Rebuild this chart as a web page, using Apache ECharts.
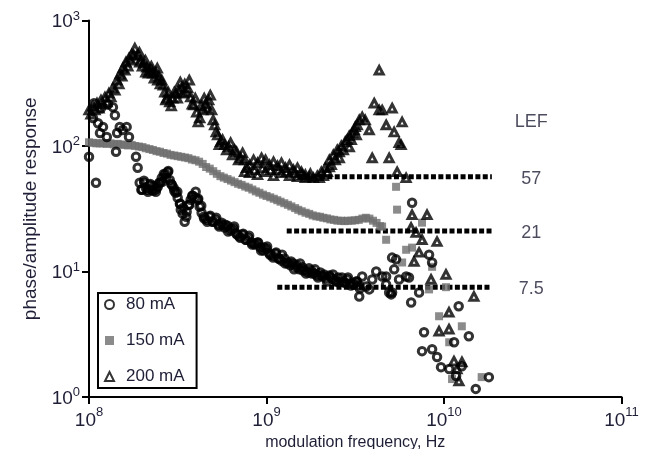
<!DOCTYPE html>
<html>
<head>
<meta charset="utf-8">
<script src="https://cdn.jsdelivr.net/npm/echarts@6/dist/echarts.min.js"></script>
<style>
  html, body { margin: 0; padding: 0; background: #fff; }
  #chart { width: 649px; height: 449px; }
</style>
</head>
<body>
<div id="chart"></div>
<script>
// Modulation response of the laser at three bias currents.
// Each point: [modulation frequency in GHz, phase/amplitude response].

const resp80mA = [
  [0.100, 82], [0.1053, 167], [0.1067, 219], [0.1095, 51], [0.1124, 152], [0.1153, 127],
  [0.1168, 200], [0.1199, 142], [0.126, 118], [0.128, 215], [0.1364, 204], [0.140, 176],
  [0.142, 90], [0.144, 127], [0.149, 142], [0.155, 134], [0.163, 142], [0.168, 118],
  [0.184, 82], [0.188, 67],
  [0.193, 50.9], [0.199, 44.8], [0.204, 52.8], [0.209, 46.4], [0.215, 43.2], [0.220, 49.0],
  [0.226, 44.8], [0.232, 48.1], [0.238, 43.2], [0.244, 47.3], [0.251, 50.9], [0.257, 55.7],
  [0.264, 59.9], [0.271, 55.7], [0.278, 62.2], [0.285, 53.7], [0.293, 49.0], [0.300, 46.4],
  [0.308, 42.4], [0.316, 38.7], [0.325, 34.7], [0.329, 31.1], [0.337, 28.9], [0.346, 24.9],
  [0.355, 29.9], [0.365, 34.0], [0.374, 37.3], [0.384, 40.1], [0.399, 43.2], [0.410, 37.3],
  [0.420, 32.8], [0.431, 29.4], [0.443, 27.3], [0.460, 25.9], [0.478, 27.3], [0.497, 24.9],
  [0.517, 25.9], [0.537, 23.6], [0.559, 24.5], [0.581, 22.4], [0.604, 23.2], [0.628, 21.2],
  [0.653, 21.9], [0.678, 20.0], [0.705, 19.0], [0.733, 19.7], [0.762, 17.9], [0.792, 18.6],
  [0.824, 17.0], [0.856, 16.4], [0.890, 17.0], [0.925, 15.5], [0.962, 14.7], [1.000, 15.2],
  [1.040, 13.9], [1.081, 13.4], [1.124, 13.9], [1.168, 12.7], [1.214, 12.2], [1.262, 12.7],
  [1.312, 11.6], [1.364, 11.2], [1.418, 11.6], [1.474, 10.8], [1.532, 10.4], [1.593, 10.8],
  [1.656, 10.2], [1.722, 9.82], [1.790, 10.2], [1.861, 9.64], [1.934, 9.30], [2.011, 9.82],
  [2.090, 9.13], [2.173, 8.80], [2.259, 9.30], [2.348, 8.80], [2.441, 8.48], [2.538, 8.96],
  [2.638, 8.33], [2.743, 8.18], [2.851, 8.64], [2.964, 8.03], [3.082, 7.88], [3.204, 8.33],
  [3.331, 7.74],
  [0.1972, 44.8], [0.2050, 50.9], [0.2132, 44.8], [0.2216, 49.9], [0.2304, 44.0], [0.2395, 45.6],
  [0.2490, 50.9], [0.2589, 51.8], [0.2691, 59.9], [0.2798, 63.3], [0.2909, 49.9], [0.3024, 44.0],
  [0.3144, 43.2], [0.3268, 34.7], [0.3398, 32.2], [0.3532, 27.3], [0.3672, 34.0], [0.3818, 40.1],
  [0.3969, 38.7], [0.4126, 38.0], [0.4289, 33.4], [0.4459, 26.4], [0.4636, 24.9], [0.4820, 27.8],
  [0.5010, 24.9], [0.5209, 26.8], [0.5415, 22.8], [0.5630, 23.6], [0.5853, 23.6], [0.6084, 20.8],
  [0.6325, 21.9], [0.6576, 22.8], [0.6836, 19.7], [0.7107, 18.6], [0.7388, 20.0], [0.7681, 17.9],
  [0.7985, 19.3], [0.8301, 16.4], [0.8630, 16.7], [0.8972, 17.0], [0.9327, 14.7], [0.9696, 15.5],
  [1.0080, 15.8], [1.0479, 13.6], [1.0894, 12.9], [1.1326, 14.2], [1.1774, 12.7], [1.2241, 13.6],
  [1.2725, 11.6], [1.3229, 11.8], [1.3753, 12.0], [1.4298, 10.4], [1.4864, 11.2], [1.5453, 11.6],
  [1.6065, 10.2], [1.6701, 9.64], [1.7362, 10.6], [1.8050, 9.64], [1.8764, 10.4], [1.9508, 8.96],
  [2.0280, 9.30], [2.1083, 9.47], [2.1918, 8.33], [2.2786, 9.13], [2.3688, 9.47], [2.4626, 8.33],
  [2.5601, 8.18], [2.6615, 8.96], [2.7669, 8.18], [2.8765, 8.96], [2.9904, 7.74], [3.1088, 8.03],
  [3.2319, 8.33], [3.3599, 7.33],
  [3.46, 9.13], [4.15, 10.0], [3.79, 7.2], [3.33, 6.33], [4.72, 7.88], [5.10, 6.81],
  [5.37, 12.5], [5.24, 10.4], [5.58, 8.64], [6.35, 8.96], [6.61, 35.3], [5.10, 12.9],
  [6.12, 9.13], [5.04, 6.57], [6.53, 5.67], [7.24, 6.81], [8.24, 13.6], [8.57, 11.8],
  [12.1, 5.28], [7.72, 3.28], [13.8, 3.05], [11.4, 2.73], [7.52, 2.32], [8.57, 2.40],
  [9.14, 2.08], [9.62, 1.73], [10.7, 1.67], [12.6, 1.76], [11.7, 1.47], [17.9, 1.44],
  [15.1, 1.16], [3.65, 7.6], [3.94, 8.64], [4.49, 9.13], [4.91, 6.81], [4.72, 9.13]
];

const resp150mA = [
  [0.100, 107], [0.105, 106], [0.110, 105], [0.115, 105], [0.120, 105], [0.126, 104],
  [0.132, 105], [0.138, 103], [0.145, 104], [0.151, 103], [0.158, 102], [0.166, 101],
  [0.174, 102], [0.182, 100], [0.191, 99], [0.200, 98], [0.209, 96], [0.219, 94.5],
  [0.229, 93], [0.240, 91], [0.251, 90], [0.263, 88], [0.275, 87], [0.288, 85],
  [0.302, 84], [0.316, 83], [0.331, 82], [0.347, 81], [0.363, 80], [0.380, 78],
  [0.398, 77], [0.417, 75], [0.437, 72], [0.457, 68], [0.479, 66], [0.501, 63],
  [0.525, 60], [0.550, 57.5], [0.575, 56], [0.603, 54.5], [0.631, 53], [0.661, 51.5],
  [0.692, 50], [0.724, 49], [0.759, 47.5], [0.794, 46.5], [0.832, 45], [0.871, 43.5],
  [0.912, 42.4], [0.955, 41], [1.00, 40], [1.05, 39], [1.10, 38], [1.15, 37],
  [1.20, 36], [1.26, 35], [1.32, 34], [1.38, 33], [1.45, 32], [1.51, 31],
  [1.58, 30.2], [1.66, 29.4], [1.74, 28.8], [1.82, 28], [1.91, 27.5], [2.00, 27.3],
  [2.09, 26.8], [2.19, 26.5], [2.29, 26], [2.40, 25.8], [2.51, 25.4], [2.63, 25.4],
  [2.75, 25.2], [2.88, 25.4], [3.02, 25.4], [3.16, 25.6], [3.31, 25.8], [3.47, 26.4],
  [3.63, 26.8], [3.80, 26.4], [3.98, 25.4], [4.17, 24.4], [4.37, 23],
  [4.72, 17.9], [4.48, 22.8], [5.37, 47.3], [5.44, 31.1], [7.52, 24.5], [6.61, 15.5],
  [6.12, 14.9], [5.81, 11.8], [8.57, 10.9], [8.24, 7.2], [10.26, 7.5], [9.38, 4.4],
  [12.6, 3.66], [10.7, 2.73], [11.1, 1.39], [16.3, 1.44]
];

const resp200mA = [
  [0.100, 193], [0.1053, 208], [0.1109, 219], [0.1168, 232], [0.1230, 245], [0.1295, 263],
  [0.1364, 289], [0.1437, 334], [0.1494, 373], [0.1552, 416], [0.1614, 464], [0.1678, 499],
  [0.1744, 537], [0.1813, 600], [0.1885, 528], [0.1959, 481], [0.2037, 456], [0.2118, 424],
  [0.2201, 401], [0.2289, 380], [0.2379, 387], [0.2473, 359], [0.2571, 334], [0.2673, 268],
  [0.2743, 240], [0.2851, 224], [0.2964, 240], [0.3082, 263], [0.3204, 278], [0.3331, 294],
  [0.3462, 311], [0.3599, 289], [0.3742, 245], [0.3890, 212], [0.4044, 186], [0.4204, 167],
  [0.4370, 193], [0.4543, 215], [0.4723, 232], [0.4909, 193], [0.5104, 147], [0.5305, 122],
  [0.5515, 108], [0.5808, 102], [0.6116, 98.2], [0.6442, 84.8], [0.6783, 89.6], [0.7143, 80.3],
  [0.7523, 77.4], [0.8027, 70.7], [0.8453, 77.4], [0.8901, 73.3], [0.9374, 80.3], [0.9871, 77.4],
  [1.040, 70.7], [1.095, 74.6], [1.153, 69.4], [1.214, 73.3], [1.279, 66.9], [1.347, 70.7],
  [1.418, 64.5], [1.494, 66.9], [1.573, 62.2], [1.656, 58.9], [1.744, 56.8], [1.837, 55.7],
  [1.934, 57.8], [2.037, 62.2], [2.145, 66.9], [2.259, 77.4], [2.379, 84.8], [2.505, 93.0],
  [2.638, 100], [2.778, 108], [2.926, 120], [3.042, 127], [3.162, 142], [3.331, 161],
  [3.462, 170], [3.599, 161], [3.790, 134],
  [0.1026, 179], [0.1081, 193], [0.1138, 200], [0.1199, 215], [0.1262, 224], [0.1329, 245],
  [0.1400, 278], [0.1474, 311], [0.1532, 359], [0.1593, 401], [0.1656, 431], [0.1722, 481],
  [0.1790, 528], [0.193, 464], [0.209, 387], [0.226, 401], [0.244, 334],
  [0.1922, 557], [0.200, 431], [0.2078, 481], [0.2160, 380], [0.2245, 431], [0.2334, 347],
  [0.2426, 416], [0.2522, 311], [0.2622, 305], [0.271, 232], [0.2798, 268], [0.2909, 208],
  [0.3024, 268], [0.3144, 240], [0.3268, 322], [0.3398, 263], [0.3532, 268], [0.3672, 334],
  [0.3818, 215], [0.3969, 240], [0.4126, 155], [0.4289, 208], [0.4459, 240], [0.4636, 200],
  [0.4820, 254], [0.5010, 161], [0.5209, 129], [0.5415, 102], [0.5660, 112], [0.5961, 93.0],
  [0.628, 106], [0.661, 93.0], [0.696, 77.4], [0.733, 88.0],
  [0.7523, 62.2], [0.8027, 61.1], [0.8901, 58.9], [0.9871, 62.2], [1.095, 57.8], [1.214, 61.1],
  [1.347, 57.8], [1.494, 56.8], [1.656, 55.7],
  [0.772, 66.9], [0.856, 64.5], [0.950, 66.9], [1.053, 64.5], [1.168, 64.5], [1.296, 62.2],
  [1.437, 61.1], [1.593, 58.9], [1.767, 60.0],
  [1.984, 55.7], [2.090, 57.8], [2.201, 62.2], [2.318, 70.7], [2.441, 77.4], [2.570, 89.6],
  [2.708, 93.0], [2.851, 112], [3.003, 112], [3.122, 134], [3.245, 147],
  [2.259, 68.1], [2.570, 80.3], [2.926, 98.2], [3.204, 122],
  [4.044, 219], [4.314, 193], [4.485, 193], [5.104, 200], [4.723, 147], [5.237, 129],
  [5.808, 155], [5.733, 102], [5.587, 106], [4.909, 80.3], [3.940, 80.3], [5.445, 62.2],
  [6.116, 55.7], [4.314, 401],
  [6.609, 28.3], [8.027, 28.3], [6.525, 22.4], [6.960, 20.4], [7.523, 17.9], [9.135, 17.3],
  [7.237, 14.2], [6.783, 12.0], [10.26, 9.47], [8.453, 8.64], [14.74, 6.33], [10.67, 4.73],
  [9.374, 3.34], [10.67, 3.47], [11.38, 1.93], [12.62, 1.90], [11.83, 1.67], [12.14, 1.34]
];

// Fitted LEF plateaus: level, start and end frequency (GHz)
const lefLevels = [57, 21, 7.5];
const lefStartGHz = [1.5, 1.3, 1.15];
const lefEndGHz = 18.6;
const lefHeader = 'LEF';
const lefHeaderLevel = 161;
const lefLabelGHz = 31;

const seriesNames = ['80 mA', '150 mA', '200 mA'];

const FONT = "'Liberation Sans', Arial, Helvetica, sans-serif";
const TEXT = '#1e1e36';
const toHz = pts => pts.map(p => [p[0] * 1e9, p[1]]);

const powerLabel = v => '{b|10}{s|' + Math.round(Math.log10(v)) + '}';
const makeRich = lh => ({
  b: { fontSize: 19, fontFamily: FONT, color: TEXT, lineHeight: lh, verticalAlign: 'bottom' },
  s: { fontSize: 13, fontFamily: FONT, color: TEXT, lineHeight: lh, verticalAlign: 'top' }
});

const axisCommon = {
  type: 'log',
  logBase: 10,
  axisLine: { show: true, lineStyle: { color: '#000', width: 2 } },
  axisTick: { show: true, inside: false, length: 7, lineStyle: { color: '#000', width: 2 } },
  minorTick: { show: false },
  splitLine: { show: false },
  nameLocation: 'middle'
};

const lefLines = lefLevels.map((lv, i) => ({
  type: 'line',
  data: [[lefStartGHz[i] * 1e9, lv], [lefEndGHz * 1e9, lv]],
  symbol: 'none',
  silent: true,
  z: 1,
  lineStyle: { color: '#000', width: 5, type: [5, 2.4] }
}));

const lefText = {
  type: 'scatter',
  silent: true,
  symbolSize: 1,
  itemStyle: { color: 'rgba(0,0,0,0)' },
  data: [[lefLabelGHz * 1e9, lefHeaderLevel, lefHeader]]
    .concat(lefLevels.map(lv => [lefLabelGHz * 1e9, lv, String(lv)])),
  label: {
    show: true,
    position: 'inside',
    offset: [0, 2],
    formatter: p => p.data[2],
    fontSize: 18,
    fontFamily: FONT,
    color: TEXT
  }
};

const hollow = { color: 'rgba(255,255,255,0)', borderColor: '#000', borderWidth: 3 };

const chart = echarts.init(document.getElementById('chart'), null, { renderer: 'canvas' });
chart.setOption({
  animation: false,
  backgroundColor: '#fff',
  grid: { left: 89, right: 27.5, top: 20.5, bottom: 52, containLabel: false, outerBoundsMode: 'none' },
  xAxis: Object.assign({}, axisCommon, {
    min: 1e8, max: 1e11,
    name: 'modulation frequency, Hz',
    nameGap: 30,
    nameTextStyle: { fontSize: 16, fontFamily: FONT, color: TEXT },
    axisLabel: { margin: 9, formatter: powerLabel, rich: makeRich(24) }
  }),
  yAxis: Object.assign({}, axisCommon, {
    min: 1, max: 1000,
    name: 'phase/amplitude response',
    nameGap: 48,
    nameTextStyle: { fontSize: 19, fontFamily: FONT, color: TEXT },
    axisLabel: { margin: 9, formatter: powerLabel, rich: makeRich(22) }
  }),
  legend: {
    data: seriesNames,
    orient: 'vertical',
    left: 98, top: 293,
    itemWidth: 9, itemHeight: 9, itemGap: 19,
    padding: [3, 12, 3, 6],
    borderColor: '#000', borderWidth: 2, borderRadius: 0,
    textStyle: { fontSize: 17, fontFamily: FONT, color: TEXT, lineHeight: 17, padding: [0, 0, 0, 7] }
  },
  series: [
    {
      name: seriesNames[1], type: 'scatter', data: toHz(resp150mA), z: 2,
      symbol: 'rect', symbolSize: 8,
      itemStyle: { color: '#6e6e6e' }
    },
    {
      name: seriesNames[0], type: 'scatter', data: toHz(resp80mA), z: 3,
      symbol: 'circle', symbolSize: 7.5,
      itemStyle: hollow
    },
    {
      name: seriesNames[2], type: 'scatter', data: toHz(resp200mA), z: 4,
      symbol: 'triangle', symbolSize: [8, 7.5],
      itemStyle: hollow
    }
  ].concat(lefLines, [lefText])
});
</script>
</body>
</html>
